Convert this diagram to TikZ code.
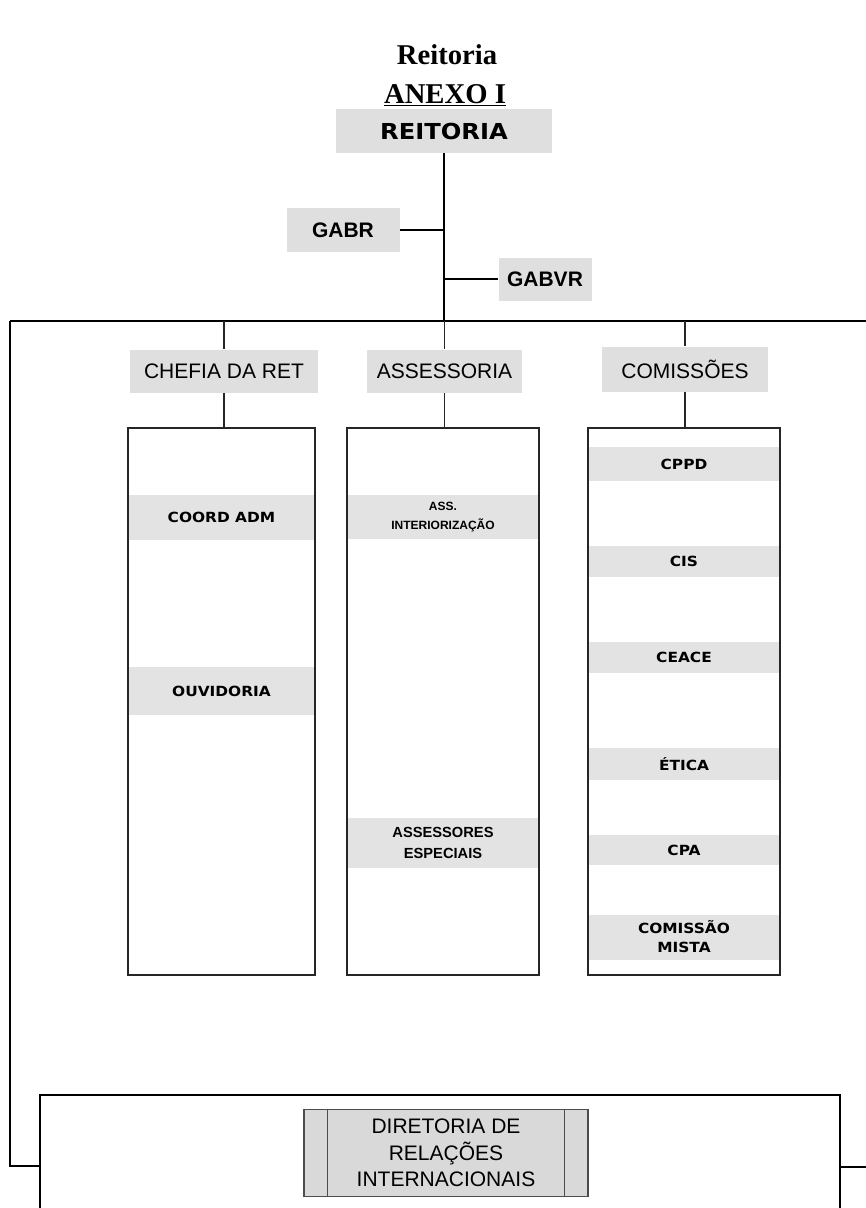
\documentclass[tikz,border=0pt]{standalone}
\usepackage{fontspec}
\setmainfont{Liberation Serif}
\newfontfamily\ars{Liberation Sans}
\newfontfamily\heavy[FakeStretch=1.1]{DejaVu Sans}
\begin{document}
\begin{tikzpicture}[x=0.75pt,y=-0.75pt,
  frame/.style={line width=1.6pt,black},
  thin/.style={line width=0.9pt,black!85},
  hdr/.style={fill=gray!25,inner sep=0pt,text=black,font=\ars\fontsize{15.75pt}{18pt}\selectfont},
  col/.style={draw=black!85,line width=0.9pt,fill=none,inner sep=0pt,minimum height=410.25pt},
  band/.style={fill=gray!22,inner sep=0pt,align=center,font=\heavy\bfseries\fontsize{10.5pt}{14.25pt}\selectfont},
  dirbox/.style={draw=black!70,line width=0.8pt,fill=gray!30,inner sep=0pt,minimum width=213pt,minimum height=65.25pt,align=center,font=\ars\fontsize{15.75pt}{19.9pt}\selectfont}
]
\useasboundingbox (0,0) rectangle (866,1208);
\clip (0,0) rectangle (866,1208);

% titles
\node[anchor=base,font=\bfseries\fontsize{21.5pt}{24pt}\selectfont] (title) at (447,64) {Reitoria};
\node[anchor=base,font=\bfseries\fontsize{21.5pt}{24pt}\selectfont] (anexo) at (445,103) {\underline{ANEXO I}};

% top nodes
\node[hdr,minimum width=162pt,minimum height=33pt,font=\heavy\bfseries\fontsize{16.5pt}{18pt}\selectfont] (reit) at (444,131) {REITORIA};
\node[hdr,minimum width=84.75pt,minimum height=33pt,font=\ars\bfseries\fontsize{15.75pt}{18pt}\selectfont] (gabr) at (343,230) {GABR};
\node[hdr,minimum width=69.75pt,minimum height=32.25pt,font=\ars\bfseries\fontsize{15.75pt}{18pt}\selectfont] (gabvr) at (545,279) {GABVR};

\coordinate (bar) at (444,321);
\coordinate (frameL) at (10,321);
\coordinate (frameR) at (866,321);
\coordinate (frameBL) at (10,1166);
\coordinate (botTL) at (40,1095);
\coordinate (botTR) at (840,1095);
\coordinate (botBL) at (40,1208);
\coordinate (botBR) at (840,1208);
\coordinate (joinL) at (40,1166);
\coordinate (joinR) at (840,1167);
\coordinate (edgeR) at (866,1167);

\draw[frame] (reit.south) -- (bar);
\draw[frame] (gabr.east) -- (gabr.east -| bar);
\draw[frame] (gabvr.west -| bar) -- (gabvr.west);
\draw[frame] (frameL) -- (frameR);
\draw[frame] (frameL) -- (frameBL) -- (joinL);
\draw[frame] (joinR) -- (edgeR);
\draw[frame] (botBL) -- (botTL) -- (botTR) -- (botBR);

% headers
\node[hdr,minimum width=141pt,minimum height=32.25pt] (chefia) at (224,371) {CHEFIA DA RET};
\node[hdr,minimum width=116.25pt,minimum height=32.25pt] (assess) at (444.5,371) {ASSESSORIA};
\node[hdr,minimum width=124.5pt,minimum height=33.75pt] (comiss) at (685,369) {COMISSÕES};

\draw[thin] (chefia.north |- bar) -- (chefia.north);
\draw[thin] (assess.north |- bar) -- (assess.north);
\draw[thin] (comiss.north |- bar) -- (comiss.north);

% bands (drawn before column outlines)
\node[band,minimum width=139.5pt,minimum height=33.75pt] (coord) at (221.5,517) {COORD ADM};
\node[band,minimum width=139.5pt,minimum height=36pt] (ouvid) at (221.5,691) {OUVIDORIA};
\node[band,minimum width=142.5pt,minimum height=33pt,font=\ars\bfseries\fontsize{9pt}{14.25pt}\selectfont] (assint) at (443,517) {ASS.\\INTERIORIZAÇÃO};
\node[band,minimum width=142.5pt,minimum height=37.5pt,font=\ars\bfseries\fontsize{11pt}{15.75pt}\selectfont] (assesp) at (443,843) {ASSESSORES\\ESPECIAIS};
\node[band,minimum width=142.5pt,minimum height=25.5pt] (cppd) at (684,464) {CPPD};
\node[band,minimum width=142.5pt,minimum height=23.25pt] (cis) at (684,561) {CIS};
\node[band,minimum width=142.5pt,minimum height=23.25pt] (ceace) at (684,657) {CEACE};
\node[band,minimum width=142.5pt,minimum height=24pt] (etica) at (684,764) {ÉTICA};
\node[band,minimum width=142.5pt,minimum height=22.5pt] (cpa) at (684,850) {CPA};
\node[band,minimum width=142.5pt,minimum height=33.75pt] (mista) at (684,937) {COMISSÃO\\MISTA};

% column boxes
\node[col,minimum width=140.25pt] (colL) at (221.5,701.5) {};
\node[col,minimum width=144pt] (colM) at (443,701.5) {};
\node[col,minimum width=144pt] (colR) at (684,701.5) {};

\draw[thin] (chefia.south) -- (chefia.south |- colL.north);
\draw[thin] (assess.south) -- (assess.south |- colM.north);
\draw[thin] (comiss.south) -- (comiss.south |- colR.north);

% diretoria
\node[dirbox] (dir) at (446,1153) {DIRETORIA DE\\RELAÇÕES\\INTERNACIONAIS};
\draw[draw=black!70,line width=0.8pt] ([xshift=18pt]dir.north west) -- ([xshift=18pt]dir.south west);
\draw[draw=black!70,line width=0.8pt] ([xshift=-18pt]dir.north east) -- ([xshift=-18pt]dir.south east);
\end{tikzpicture}
\end{document}
